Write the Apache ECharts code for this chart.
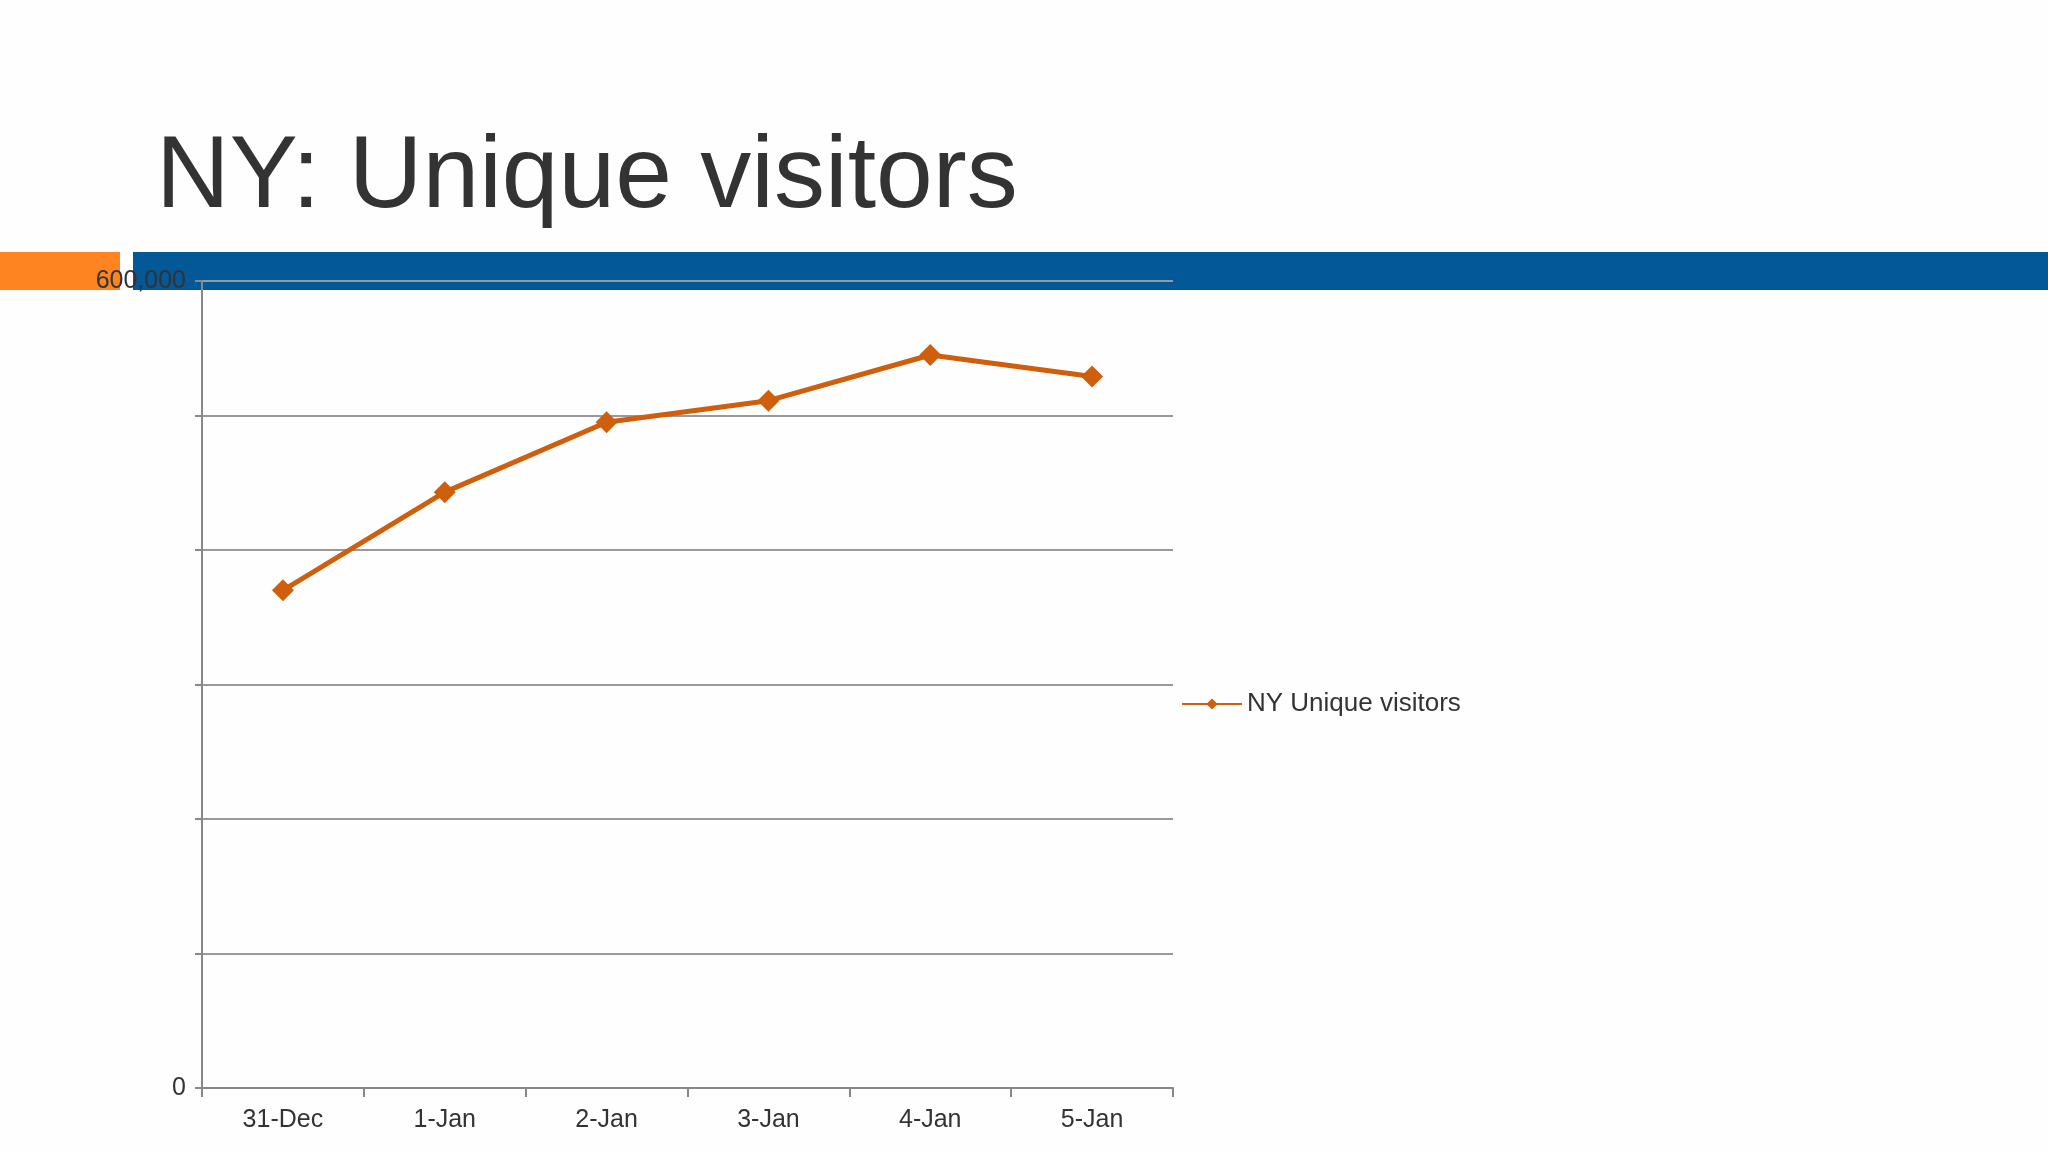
<!DOCTYPE html>
<html><head><meta charset="utf-8">
<script src="https://cdn.jsdelivr.net/npm/echarts@6/dist/echarts.min.js"></script>
<style>html,body{margin:0;background:#fefefe}#main{width:2048px;height:1152px}</style>
</head><body><div id="main"></div>
<script>
var categories = ['31-Dec','1-Jan','2-Jan','3-Jan','4-Jan','5-Jan'];
var visitors = [370000, 443000, 495000, 511000, 545000, 529000];
var seriesName = 'NY Unique visitors';
var chart = echarts.init(document.getElementById('main'));
chart.setOption({
  backgroundColor: '#fefefe',
  textStyle: {fontFamily: 'Liberation Sans, Arial'},
  graphic: [
    {type: 'rect', z: -1, shape: {x: 0, y: 252, width: 120, height: 38}, style: {fill: '#fd8421'}},
    {type: 'rect', z: -1, shape: {x: 133, y: 252, width: 1915, height: 38}, style: {fill: '#035897'}},
    {type: 'text', left: 156, top: 128, style: {text: 'NY: Unique visitors', font: '102px Liberation Sans, Arial', fill: '#333'}}
  ],
  grid: {left: 202, right: 875, top: 281, bottom: 64},
  legend: {left: 1176, top: 686, itemWidth: 60, itemHeight: 14, textStyle: {fontSize: 26, color: '#333'}, data: [seriesName]},
  xAxis: {type: 'category', data: categories, boundaryGap: true,
    axisLine: {lineStyle: {color: '#888', width: 2}},
    axisTick: {show: true, length: 9, lineStyle: {color: '#888', width: 2}},
    axisLabel: {fontSize: 25, color: '#333', margin: 20}},
  yAxis: {type: 'value', min: 0, max: 600000, interval: 100000,
    axisLine: {show: true, lineStyle: {color: '#888', width: 2}},
    axisTick: {show: true, length: 7, lineStyle: {color: '#888', width: 2}},
    splitLine: {lineStyle: {color: '#999', width: 2}},
    axisLabel: {fontSize: 25, color: '#333', margin: 16,
      formatter: function(v){ return v === 0 ? '0' : (v === 600000 ? '600,000' : ''); }}},
  series: [{name: seriesName, type: 'line', data: visitors, symbol: 'diamond', symbolSize: 22,
    lineStyle: {color: '#cf5f0c', width: 5}, itemStyle: {color: '#cf5f0c'}}]
});
</script></body></html>
